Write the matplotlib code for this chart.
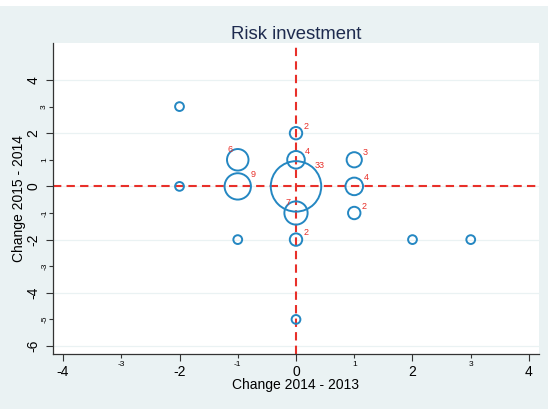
import matplotlib
matplotlib.use("Agg")
import matplotlib.pyplot as plt
import numpy as np

# Frequency-weighted scatter: change 2014-2013 vs change 2015-2014
dx = [-2, -2, -1, -1, -1, 0, 0, 0, 0, 0, 0, 1, 1, 1, 2, 3]
dy = [3, 0, 1, 0, -2, 2, 1, 0, -1, -2, -5, 1, 0, -1, -2, -2]
freq = [1, 1, 6, 9, 1, 2, 4, 33, 7, 2, 1, 3, 4, 2, 1, 1]
# clock position of the count label (1 = upper right, 11 = upper left)
label_pos = [1, 1, 11, 1, 1, 1, 1, 1, 11, 1, 1, 1, 1, 1, 1, 1]

x_major = [-4, -2, 0, 2, 4]
x_minor = [-3, -1, 1, 3]
y_major = [4, 2, 0, -2, -4, -6]
y_minor = [3, 1, -1, -3, -5]

plt.rcParams["font.family"] = ["Liberation Sans", "DejaVu Sans"]
plt.rcParams["axes.unicode_minus"] = False

bg = "#EAF2F3"
blue = "#2487C2"
red = "#E8302A"
dark = "#333333"

fig = plt.figure(figsize=(5.49, 4.09), dpi=100, facecolor="white")
# light graph region (thin white strip on top, as in the original export)
fig.patches.append(plt.Rectangle((0, 0), 548 / 549, 403 / 409, transform=fig.transFigure,
                                 facecolor=bg, edgecolor="none", zorder=-10))

ax = fig.add_axes([53 / 549, 1 - 354 / 409, 486 / 549, 311 / 409])
ax.set_facecolor("white")

sizes = np.array(freq) * 40
ax.scatter(dx, dy, s=sizes, facecolors="none", edgecolors=blue, linewidths=1.4, zorder=3)

ax.axhline(0, color=red, lw=1.5, dashes=(4, 2.5), zorder=2)
ax.axvline(0, color=red, lw=1.5, dashes=(4, 2.5), zorder=2)

# count labels
for xi, yi, n, p in zip(dx, dy, freq, label_pos):
    if n < 2:
        continue
    r = np.sqrt(n * 40) / 0.72 / 2  # marker radius in pixels
    if p == 1:
        off = (r * 0.75 + 5, r * 0.75 + 2)
    else:
        off = (-r * 0.6 - 1, r * 0.75 + 2)
    ax.annotate(str(n), (xi, yi), xytext=off, textcoords="offset pixels",
                color=red, fontsize=6.5, ha="center", va="center", zorder=4)

ax.set_xlim(-4.172, 4.172)
ax.set_ylim(-6.30, 5.39)

ax.set_xticks(x_major)
ax.set_xticklabels([str(v) for v in x_major], fontsize=10)
ax.set_xticks(x_minor, minor=True)
ax.set_xticklabels([str(v) for v in x_minor], minor=True, fontsize=6)
ax.set_yticks(y_major)
ax.set_yticklabels([str(v) for v in y_major], fontsize=10, rotation=90, va="center")
ax.set_yticks(y_minor, minor=True)
ax.set_yticklabels([str(v) for v in y_minor], minor=True, fontsize=6, rotation=90, va="center")

ax.tick_params(which="major", direction="out", length=5, width=0.8, color=dark, pad=3)
ax.tick_params(which="minor", direction="out", length=3, width=0.8, color=dark, pad=2)
ax.tick_params(axis="y", which="major", pad=4)
ax.tick_params(axis="y", which="minor", pad=0.5)

ax.grid(axis="y", which="major", color=bg, lw=0.9, zorder=0)
ax.set_axisbelow(True)

for side in ["top", "right"]:
    ax.spines[side].set_visible(False)
for side in ["left", "bottom"]:
    ax.spines[side].set_color(dark)
    ax.spines[side].set_linewidth(0.9)

ax.set_xlabel("Change 2014 - 2013", fontsize=10, labelpad=-1)
ax.set_ylabel("Change 2015 - 2014", fontsize=10)
ax.yaxis.set_label_coords(-27 / 486, 0.5)
ax.set_title("Risk investment", fontsize=13.3, color="#1E2B4F", pad=3)

fig.savefig("out.png", dpi=100, facecolor=fig.get_facecolor())
